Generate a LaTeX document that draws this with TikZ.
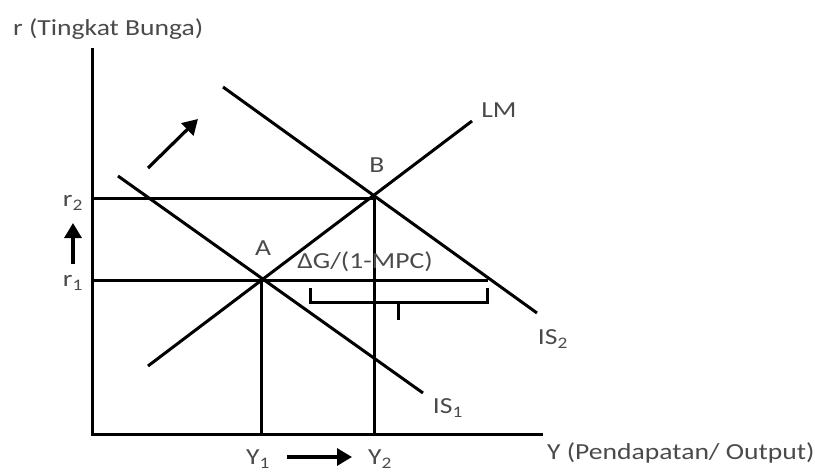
\documentclass[tikz,border=0pt]{standalone}
\usepackage{graphicx}
\usepackage{fontspec}
\setmainfont{Carlito}
\usetikzlibrary{arrows.meta}
\definecolor{txt}{HTML}{4A4A4A}
\newcommand{\widetxt}[1]{\scalebox{1.2}[1]{#1}}
\tikzset{
  ln/.style={line width=3pt, line cap=butt},
  brk/.style={line width=3pt},
  lbl/.style={font=\fontsize{23}{25}\selectfont, text=txt, inner sep=0pt},
  arr/.style={line width=3.2pt, -{Triangle[length=15pt,width=17pt]}},
}
\begin{document}
\begin{tikzpicture}[x=1pt,y=-1pt]
\useasboundingbox (0,0) rectangle (815,472);
% coordinates
\coordinate (O) at (92,434);
\coordinate (Ytop) at (92,48);
\coordinate (Xend) at (543,434);
\coordinate (A) at (261,280);
\coordinate (B) at (374,198);
\coordinate (r2L) at (92,198);
\coordinate (r1L) at (92,280);
\coordinate (r1R) at (488,280);
\coordinate (Abot) at (261,434);
\coordinate (Bbot) at (374,434);
\coordinate (IS1a) at (118,176);
\coordinate (IS1b) at (423,393);
\coordinate (IS2a) at (223,87);
\coordinate (IS2b) at (537,313);
\coordinate (LMa) at (148,366);
\coordinate (LMb) at (472,121);
% axes
\draw[ln] (Ytop) -- (O) -- (Xend);
% curves
\draw[ln] (IS1a) -- (IS1b);
\draw[ln] (IS2a) -- (IS2b);
\draw[ln] (LMa) -- (LMb);
% guide lines
\draw[ln] (r2L) -- (B);
\draw[ln] (r1L) -- (r1R);
\draw[ln] (A) -- (Abot);
\draw[ln] (B) -- (Bbot);
% bracket
\coordinate (brL) at (310,288);
\coordinate (brR) at (487,288);
\coordinate (brM) at (398,302);
\coordinate (brT) at (398,320);
\draw[brk] (brL) |- (brM) -| (brR);
\draw[brk] (brM) -- (brT);
% arrows
\coordinate (d1) at (148,168);
\coordinate (d2) at (198,119);
\draw[arr] (d1) -- (d2);
\coordinate (u1) at (73,264);
\coordinate (u2) at (73,223);
\draw[arr] (u1) -- (u2);
\coordinate (h1) at (287,457);
\coordinate (h2) at (352,457);
\draw[arr] (h1) -- (h2);
% labels
\node[lbl, anchor=base west] (ylab) at (13,35) {\widetxt{r (Tingkat Bunga)}};
\node[lbl, anchor=base west] (xlab) at (547,459) {\widetxt{Y (Pendapatan/ Output)}};
\node[lbl] (LMl) at (499,110) {\widetxt{LM}};
\node[lbl] (Bl) at (377,165) {\widetxt{B}};
\node[lbl] (Al) at (263,248) {\widetxt{A}};
\node[lbl] (dg) at (365,262) {\widetxt{ΔG/(1-MPC)}};
\node[lbl] (IS2l) at (553,339) {\widetxt{IS\textsubscript{2}}};
\node[lbl] (IS1l) at (448,408) {\widetxt{IS\textsubscript{1}}};
\node[lbl] (r2l) at (73,203) {\widetxt{r\textsubscript{2}}};
\node[lbl] (r1l) at (73,283) {\widetxt{r\textsubscript{1}}};
\node[lbl] (Y1l) at (258,459) {\widetxt{Y\textsubscript{1}}};
\node[lbl] (Y2l) at (380,459) {\widetxt{Y\textsubscript{2}}};
\end{tikzpicture}
\end{document}
